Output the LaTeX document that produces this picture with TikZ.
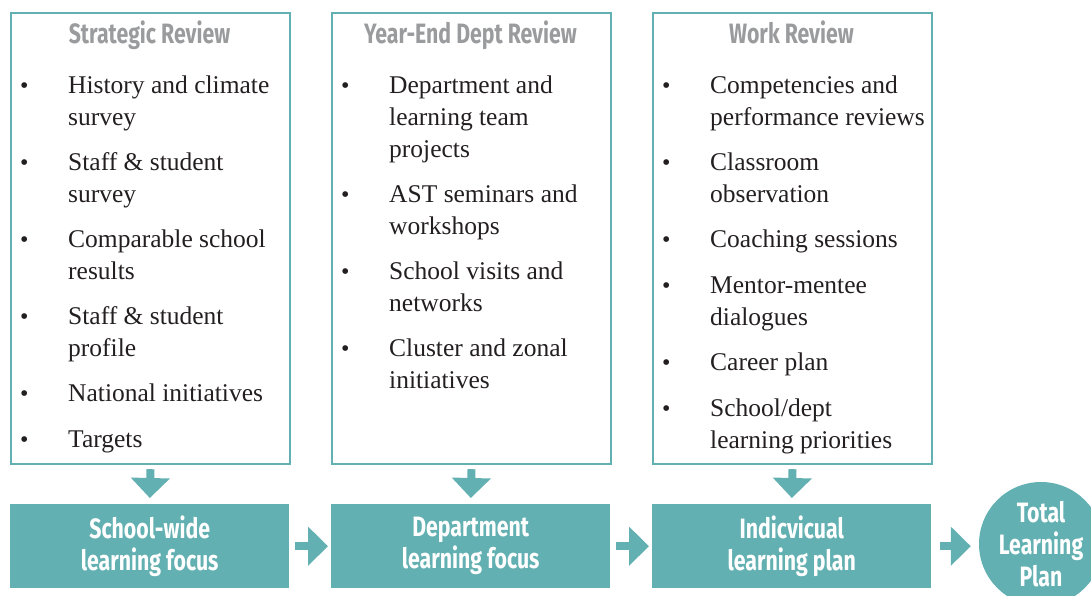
\documentclass[tikz,border=0pt]{standalone}
\usepackage{fontspec}
\setmainfont{Liberation Serif}
\newfontfamily\headfont[FakeStretch=0.76]{Fira Sans}
\usetikzlibrary{arrows.meta}
\definecolor{teal1}{HTML}{62B0B1}
\definecolor{headgrey}{HTML}{9A9B9D}
\definecolor{ink}{HTML}{231F20}
\begin{document}
\begin{tikzpicture}[x=1pt,y=-1pt,
  review/.style={draw=teal1,line width=2.2pt,inner sep=0,minimum width=279pt,minimum height=451pt,anchor=north west},
  headtxt/.style={text=headgrey,font=\headfont\bfseries\fontsize{28}{32}\selectfont,inner sep=0,anchor=base},
  itemtxt/.style={text=ink,font=\fontsize{25.5}{32}\selectfont,align=left,inner sep=0,anchor=base west},
  bul/.style={text=ink,font=\fontsize{24}{32}\selectfont,inner sep=0,anchor=base west},
  focus/.style={fill=teal1,text=white,font=\headfont\bfseries\fontsize{28}{32}\selectfont,align=center,inner sep=0,minimum width=279pt,minimum height=84pt,anchor=north west},
  blockarrow/.style={draw=teal1,line width=8pt,-{Triangle[width=38pt,length=20pt]}}
]
\useasboundingbox (0,0) rectangle (1091,595);

% review boxes
\node[review] (r1) at (10,12) {};
\node[review] (r2) at (331,12) {};
\node[review] (r3) at (652,12) {};

% headers
\node[headtxt] (h1) at (149.5,43) {Strategic Review};
\node[headtxt] (h2) at (470.5,43) {Year-End Dept Review};
\node[headtxt] (h3) at (791.5,43) {Work Review};

% box 1 items (nodes anchored at the baseline of their last line)
\node[bul] (b11) at (20,93) {•};
\node[itemtxt] (a11) at (68,125) {History and climate\\survey};
\node[bul] (b12) at (20,170) {•};
\node[itemtxt] (a12) at (68,202) {Staff \& student\\survey};
\node[bul] (b13) at (20,247) {•};
\node[itemtxt] (a13) at (68,279) {Comparable school\\results};
\node[bul] (b14) at (20,324) {•};
\node[itemtxt] (a14) at (68,356) {Staff \& student\\profile};
\node[bul] (b15) at (20,401) {•};
\node[itemtxt] (a15) at (68,401) {National initiatives};
\node[bul] (b16) at (20,447) {•};
\node[itemtxt] (a16) at (68,447) {Targets};

% box 2 items
\node[bul] (b21) at (341,93) {•};
\node[itemtxt] (a21) at (389,157) {Department and\\learning team\\projects};
\node[bul] (b22) at (341,202) {•};
\node[itemtxt] (a22) at (389,234) {AST seminars and\\workshops};
\node[bul] (b23) at (341,279) {•};
\node[itemtxt] (a23) at (389,311) {School visits and\\networks};
\node[bul] (b24) at (341,356) {•};
\node[itemtxt] (a24) at (389,388) {Cluster and zonal\\initiatives};

% box 3 items
\node[bul] (b31) at (662,93) {•};
\node[itemtxt] (a31) at (710,125) {Competencies and\\performance reviews};
\node[bul] (b32) at (662,170) {•};
\node[itemtxt] (a32) at (710,202) {Classroom\\observation};
\node[bul] (b33) at (662,247) {•};
\node[itemtxt] (a33) at (710,247) {Coaching sessions};
\node[bul] (b34) at (662,293) {•};
\node[itemtxt] (a34) at (710,325) {Mentor-mentee\\dialogues};
\node[bul] (b35) at (662,370) {•};
\node[itemtxt] (a35) at (710,370) {Career plan};
\node[bul] (b36) at (662,416) {•};
\node[itemtxt] (a36) at (710,448) {School/dept\\learning priorities};

% focus boxes
\node[focus] (f1) at (10,504) {School-wide\\learning focus};
\node[focus] (f2) at (331,504) {Department\\learning focus};
\node[focus] (f3) at (652,504) {Indicvicual\\learning plan};

% total learning plan circle (clipped by picture edge)
\begin{scope}
\clip (0,0) rectangle (1091,595);
\node[circle,fill=teal1,minimum size=124pt,inner sep=0,text=white,
  font=\headfont\bfseries\fontsize{28}{32}\selectfont,align=center] (tlp) at (1041,544) {Total\\Learning\\Plan};
\end{scope}

% arrows
\draw[blockarrow,shorten <=4pt,shorten >=6pt] (r1.south) -- (f1.north);
\draw[blockarrow,shorten <=4pt,shorten >=6pt] (r2.south) -- (f2.north);
\draw[blockarrow,shorten <=4pt,shorten >=6pt] (r3.south) -- (f3.north);
\draw[blockarrow,shorten <=6pt,shorten >=3pt] (f1.east) -- (f2.west);
\draw[blockarrow,shorten <=6pt,shorten >=3pt] (f2.east) -- (f3.west);
\draw[blockarrow,shorten <=9pt,shorten >=8pt] (f3.east) -- (tlp.west |- f3.east);
\end{tikzpicture}
\end{document}
